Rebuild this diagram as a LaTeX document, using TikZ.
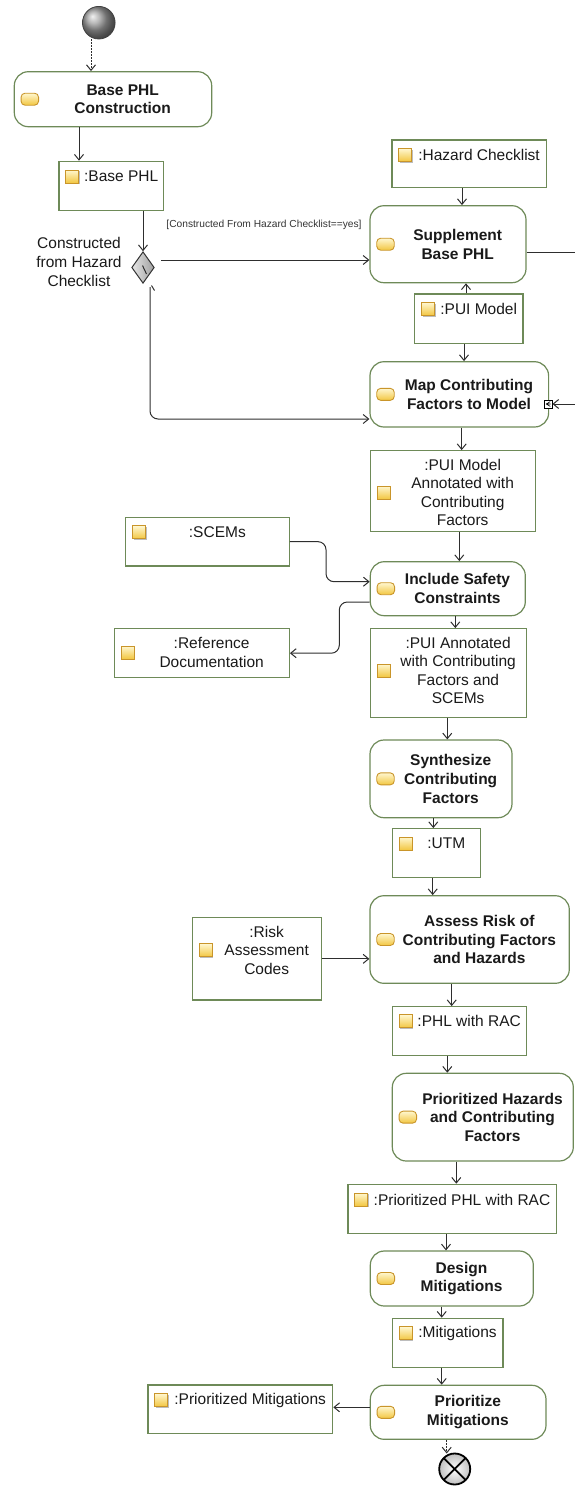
\documentclass[tikz,border=0pt]{standalone}
\usepackage{fontspec}
\setmainfont{Liberation Sans}
\usetikzlibrary{arrows.meta,shapes.geometric}

\definecolor{boxline}{HTML}{6E8A58}
\definecolor{wire}{HTML}{2E2E2E}
\definecolor{inkc}{HTML}{1A1A1A}
\definecolor{pinfillA}{HTML}{FFF7CF}
\definecolor{pinfillB}{HTML}{F2C640}
\definecolor{pinedge}{HTML}{C9952A}
\definecolor{iconshade}{HTML}{BDBDBD}

\tikzset{
  actbox/.style={draw=boxline, line width=1.2pt, rounded corners=14pt, fill=white, inner sep=0pt},
  objarea/.style={rectangle, inner sep=0pt, outer sep=0.6pt},
  objframe/.style={draw=boxline, line width=1.2pt, fill=white, line join=miter},
  acttext/.style={font=\fontsize{15.5}{18.7}\selectfont\bfseries, text=inkc, align=center, inner sep=0pt},
  objtext/.style={font=\fontsize{15.5}{18.6}\selectfont, text=inkc, align=center, inner sep=0pt},
  pinicon/.style={rectangle, rounded corners=4pt, minimum width=17.5pt, minimum height=12pt,
    inner sep=0pt, draw=pinedge, line width=0.9pt, top color=pinfillA, bottom color=pinfillB},
  objicon/.style={rectangle, minimum size=13pt, inner sep=0pt, draw=pinedge, line width=0.9pt,
    top color=pinfillA, bottom color=pinfillB},
  iconshadow/.style={rectangle, minimum size=13pt, inner sep=0pt, fill=iconshade},
  flow/.style={draw=wire, line width=1pt, -{Straight Barb[length=5.5pt,width=9pt]}},
  dotflow/.style={flow, dash pattern=on 1.6pt off 1.4pt},
  wireline/.style={draw=wire, line width=1pt},
}

% action node: name, x1, y1, x2, y2, label
\newcommand{\actnode}[6]{%
  \pgfmathsetmacro{\bxW}{#4-#2}%
  \pgfmathsetmacro{\bxH}{#5-#3}%
  \pgfmathsetmacro{\bxX}{(#2+#4)/2}%
  \pgfmathsetmacro{\bxY}{(#3+#5)/2}%
  \pgfmathsetmacro{\txX}{(#2+24.4+#4)/2-2.5}%
  \pgfmathsetmacro{\icX}{#2+15.5}%
  \node[actbox, minimum width=\bxW pt, minimum height=\bxH pt] (#1) at (\bxX,\bxY) {};
  \node[pinicon] at (\icX,\bxY) {};
  \node[acttext] at (\txX,\bxY) {#6};
}

% object node: name, x1, y1, x2, y2, text line y, label
\newcommand{\objnode}[7]{%
  \pgfmathsetmacro{\bxW}{#4-#2}%
  \pgfmathsetmacro{\bxH}{#5-#3}%
  \pgfmathsetmacro{\bxX}{(#2+#4)/2}%
  \pgfmathsetmacro{\bxY}{(#3+#5)/2}%
  \pgfmathsetmacro{\txX}{(#2+19.7+#4)/2}%
  \pgfmathsetmacro{\icX}{#2+13.2}%
  \draw[objframe] (#2,#3) rectangle (#4,#5);
  \node[objarea, minimum width=\bxW pt, minimum height=\bxH pt] (#1) at (\bxX,\bxY) {};
  \node[iconshadow] at (\icX+1.3,#6+1.3) {};
  \node[objicon] at (\icX,#6) {};
  \node[objtext] at (\txX,#6) {#7};
}

% vertical flow between two stacked nodes at a given x
\newcommand{\vlink}[4][flow]{%
  \coordinate (vx) at (#4,0);
  \draw[#1] (#2.south -| vx) -- (#3.north -| vx);
}

\begin{document}
\begin{tikzpicture}[x=1pt,y=-1pt]
\useasboundingbox (0,0) rectangle (575,1486);
\clip (0,0) rectangle (575,1486);

% initial and final nodes
\node[circle, minimum size=32.6pt, inner sep=0pt, ball color=gray!75, draw=black!75, line width=0.8pt] (start) at (98.8,22.7) {};
\node[circle, minimum size=31pt, inner sep=0pt, outer sep=0pt, draw=black, line width=1.8pt,
  inner color=white, outer color=gray!50] (fin) at (454.7,1469) {};
\draw[black, line width=1.8pt] (fin.45) -- (fin.225) (fin.135) -- (fin.315);

% actions
\actnode{bpc}{14.3}{71.7}{211.7}{126.7}{Base PHL\\Construction}
\actnode{sup}{370}{205.7}{526}{282.7}{Supplement\\Base PHL}
\actnode{map}{370}{361.7}{548.6}{427}{Map Contributing\\Factors to Model}
\actnode{inc}{370.3}{561.7}{525.3}{615.7}{Include Safety\\Constraints}
\actnode{syn}{370}{740}{512}{817.7}{Synthesize\\Contributing\\Factors}
\actnode{ass}{370}{895.7}{569.3}{983.3}{Assess Risk of\\Contributing Factors\\and Hazards}
\actnode{prh}{392.3}{1073.3}{573.3}{1161}{Prioritized Hazards\\and Contributing\\Factors}
\actnode{des}{370.3}{1251}{533.3}{1306}{Design\\Mitigations}
\actnode{pri}{370.3}{1385.3}{546}{1439.3}{Prioritize\\Mitigations}

% object nodes
\objnode{bphl}{59}{161.3}{163.7}{210.3}{176.5}{:Base PHL}
\objnode{haz}{392}{140}{546.5}{187.7}{155}{:Hazard Checklist}
\objnode{pui}{414.7}{294}{523}{343.7}{309}{:PUI Model}
\objnode{puia}{370.3}{450.7}{535.3}{531.7}{492.5}{:PUI Model\\Annotated with\\Contributing\\Factors}
\objnode{scem}{125.7}{517.3}{289.3}{566}{532.3}{:SCEMs}
\objnode{ref}{114.3}{628.7}{289.3}{677.7}{652.5}{:Reference\\Documentation}
\objnode{puis}{370.3}{628.7}{526.3}{717.3}{670.5}{:PUI Annotated\\with Contributing\\Factors and\\SCEMs}
\objnode{utm}{392.3}{828.7}{480.7}{877.7}{843.5}{:UTM}
\objnode{risk}{192.3}{917.7}{321.3}{1000}{950.2}{:Risk\\Assessment\\Codes}
\objnode{phl}{392.3}{1006.7}{526.3}{1055.7}{1021.3}{:PHL with RAC}
\objnode{pphl}{348}{1184.3}{556.3}{1233.7}{1199.5}{:Prioritized PHL with RAC}
\objnode{mit}{392.3}{1318.3}{503}{1367.3}{1333.3}{:Mitigations}
\objnode{pmit}{148}{1385}{332.7}{1433.7}{1400}{:Prioritized Mitigations}

% decision
\node[diamond, minimum width=22.6pt, minimum height=31.6pt, inner sep=0pt, draw=black!80,
  line width=1pt, left color=gray!20, right color=gray!75] (dec) at (143,267.5) {};
\draw[wireline] (142.5,265.5) -- (146.5,274);
\node[objtext] (declbl) at (79,262) {Constructed\\from Hazard\\Checklist};
\node[font=\fontsize{10.2}{12}\selectfont, text=black!80, inner sep=0pt] (guard) at (264,225)
  {[Constructed From Hazard Checklist==yes]};

% input pin on the mapping action
\node[rectangle, minimum size=8pt, inner sep=0pt, draw=black, fill=white, line width=0.8pt] (mpin) at (548,404) {};
\draw[black, line width=0.6pt] (550.3,401.6) -- (546.2,404) -- (550.3,406.4) (546.4,404) -- (550.5,404);

% flows
\vlink[dotflow]{start}{bpc}{91}
\vlink{bpc}{bphl}{79}
\draw[flow] (bphl.south -| dec.north) -- (dec.north);
\coordinate (g1) at (161,260);
\draw[flow] (g1) -- (g1 -| sup.west);
\coordinate (g2) at (150,287);
\coordinate (g3) at (150,419);
\draw[flow, rounded corners=8pt] (g2) -- (g3) -- (g3 -| map.west);
\draw[wireline] (151.5,285.5) -- (154.5,290.5);
\vlink{haz}{sup}{462}
\coordinate (vx) at (466,0);
\draw[flow] (pui.north -| vx) -- (sup.south -| vx);
\vlink{pui}{map}{464}
\draw[flow] ([yshift=-8.5pt]sup.east) -- ++(70,0) |- (mpin.east);
\vlink{map}{puia}{461.7}
\vlink{puia}{inc}{459.3}
\coordinate (c1) at (326,0);
\coordinate (incin) at ([yshift=7pt]inc.west);
\draw[flow, rounded corners=8pt] (scem.east) -- (scem.east -| c1) -- (c1 |- incin) -- (incin);
\coordinate (c2) at (339.3,0);
\coordinate (incout) at ([yshift=-13.3pt]inc.west);
\draw[flow, rounded corners=8pt] (incout) -- (incout -| c2) -- (c2 |- ref.east) -- (ref.east);
\vlink{inc}{puis}{455.3}
\vlink{puis}{syn}{447.3}
\vlink{syn}{utm}{433.3}
\vlink{utm}{ass}{432.7}
\draw[flow] (risk.east) -- (risk.east -| ass.west);
\vlink{ass}{phl}{451.7}
\vlink{phl}{prh}{447.3}
\vlink{prh}{pphl}{456.3}
\vlink{pphl}{des}{446}
\vlink{des}{mit}{441.7}
\vlink{mit}{pri}{441.7}
\coordinate (priout) at ([yshift=5pt]pri.west);
\draw[flow] (priout) -- (priout -| pmit.east);
\vlink[dotflow]{pri}{fin}{446.7}
\end{tikzpicture}
\end{document}
